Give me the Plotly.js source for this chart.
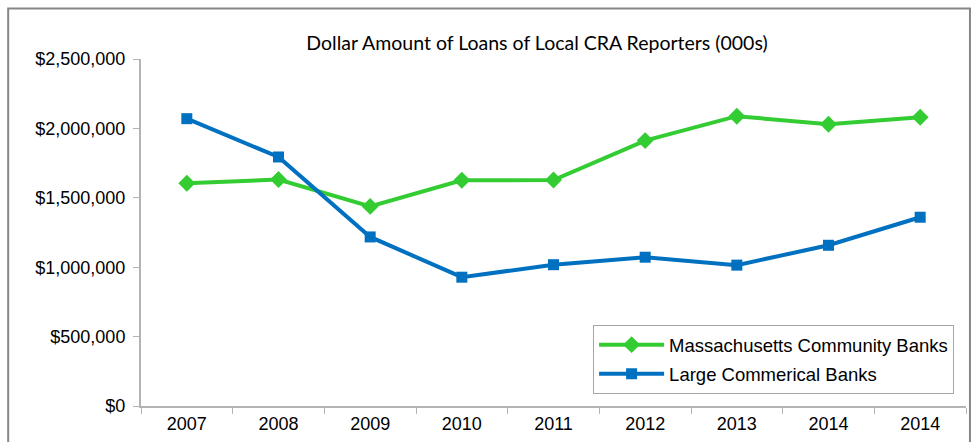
<!DOCTYPE html>
<html>
<head>
<meta charset="utf-8">
<script src="https://cdn.plot.ly/plotly-3.0.1.min.js"></script>
<style>html,body{margin:0;padding:0;background:#fff;}#chart{width:974px;height:442px;}</style>
</head>
<body>
<div id="chart"></div>
<script>
var years = ['2007','2008','2009','2010','2011','2012','2013','2014','2014'];
var maCommunity = [1605000, 1632000, 1438000, 1626000, 1628000, 1912000, 2088000, 2030000, 2080000];
var largeCommercial = [2070000, 1794000, 1218000, 928000, 1018000, 1072000, 1015000, 1158000, 1360000];
var yTickVals = [0, 500000, 1000000, 1500000, 2000000, 2500000];
var yTickText = ['$0', '$500,000', '$1,000,000', '$1,500,000', '$2,000,000', '$2,500,000'];

var idx = years.map(function(_, i){ return i; });
var bounds = years.map(function(_, i){ return i - 0.5; }).concat([years.length - 0.5]);

var traces = [
  {x: idx, y: maCommunity, name: 'Massachusetts Community Banks', type: 'scatter', mode: 'lines+markers', legendgroup: 'a',
   line: {color: '#33cc33', width: 4}, marker: {symbol: 'diamond', size: 13, color: '#33cc33'}},
  {x: idx, y: largeCommercial, name: 'Large Commerical Banks', type: 'scatter', mode: 'lines+markers', legendgroup: 'b',
   line: {color: '#0070c0', width: 4}, marker: {symbol: 'square', size: 11, color: '#0070c0'}}
];

var layout = {
  width: 974, height: 442,
  margin: {l: 141, r: 8, t: 59, b: 36, pad: 0},
  paper_bgcolor: '#fff', plot_bgcolor: '#fff',
  showlegend: true,
  font: {family: 'Liberation Sans, Arial, sans-serif', size: 17, color: '#000'},
  title: {text: 'Dollar Amount of Loans of Local CRA Reporters (000s)', font: {family: 'Lato, sans-serif', size: 19.5, color: '#000'},
          x: 0.48, xref: 'paper', xanchor: 'center', y: 0.903, yref: 'container', yanchor: 'middle'},
  xaxis: {
    range: [-0.5, years.length - 0.5], tickmode: 'array', tickvals: idx, ticktext: years,
    ticks: '', showgrid: false, zeroline: false, showline: true, linecolor: '#b3b3b3', linewidth: 2,
    tickfont: {size: 18}, fixedrange: true,
    minor: {tickmode: 'array', tickvals: bounds, ticks: 'outside', ticklen: 6, tickwidth: 1, tickcolor: '#b3b3b3', showgrid: false}
  },
  yaxis: {
    range: [0, 2500000], tickmode: 'array', tickvals: yTickVals, ticktext: yTickText,
    ticks: 'outside', ticklen: 6, tickwidth: 1, tickcolor: '#b3b3b3', ticklabelstandoff: 4,
    showgrid: false, zeroline: false, showline: true, linecolor: '#b3b3b3', linewidth: 2,
    tickfont: {size: 18}, fixedrange: true
  },
  legend: {
    x: 0.548, y: 0.233, xanchor: 'left', yanchor: 'top', xref: 'paper', yref: 'paper',
    bgcolor: '#fff', bordercolor: '#a6a6a6', borderwidth: 1, traceorder: 'grouped',
    font: {size: 18.5}, tracegroupgap: 2, itemwidth: 65
  },
  shapes: [
    {type: 'rect', xref: 'paper', yref: 'paper', x0: -0.161, x1: 1.0048, y0: -0.2, y1: 1.1455,
     line: {color: '#868686', width: 2}, fillcolor: 'rgba(0,0,0,0)', layer: 'below'}
  ]
};

Plotly.newPlot('chart', traces, layout, {displayModeBar: false, staticPlot: true});
</script>
</body>
</html>
